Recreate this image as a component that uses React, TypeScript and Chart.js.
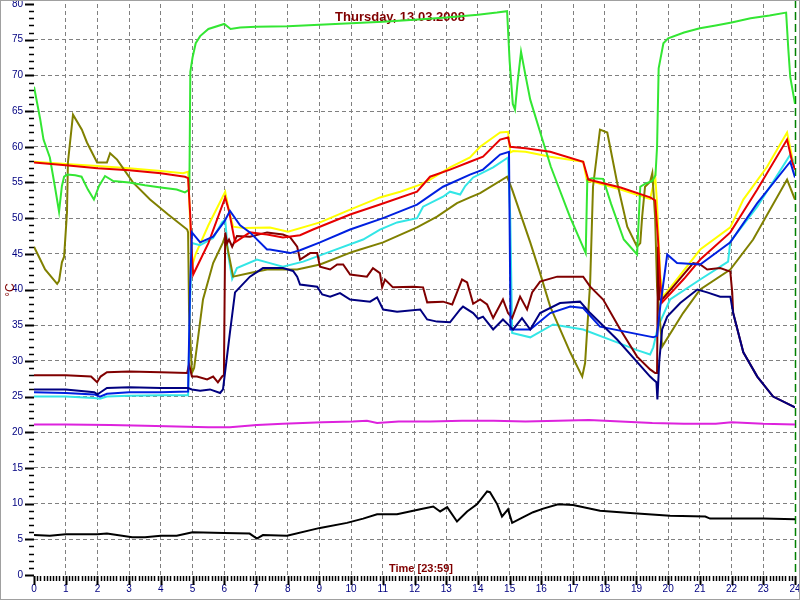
import React, { useEffect, useRef } from "react";
import { Chart, registerables } from "chart.js";

Chart.register(...registerables);

const titleText = "Thursday, 13.03.2008";
const xAxisText = "Time [23:59]";
const yAxisText = "°C";

const xTickLabels = Array.from({ length: 25 }, (_, i) => String(i));

const greenHours = [0, 0.19, 0.3, 0.5, 0.66, 0.79, 0.88, 0.95, 1.05, 1.3, 1.5, 1.7, 1.89, 2.05, 2.24, 2.5, 3.0, 3.5, 4.0, 4.5, 4.76, 4.9, 4.93, 5.0, 5.1, 5.24, 5.5, 6.0, 6.2, 6.5, 7, 8, 9, 10, 11, 12, 13, 14, 14.6, 14.92, 15.0, 15.1, 15.17, 15.25, 15.36, 15.5, 15.65, 16.0, 16.3, 16.9, 17.4, 17.45, 17.6, 17.95, 18.2, 18.6, 19.02, 19.12, 19.27, 19.5, 19.6, 19.65, 19.7, 19.85, 20.0, 20.5, 21.0, 21.5, 22.0, 22.6, 23.2, 23.72, 23.79, 23.85, 24];
const greenTemps = [68.4, 64, 61, 58.5, 54.4, 50.9, 54.5, 55.8, 56.1, 56, 55.8, 54, 52.6, 54.5, 55.9, 55.2, 55, 54.6, 54.3, 54, 53.6, 54, 70.5, 72.5, 74.5, 75.5, 76.5, 77.2, 76.5, 76.7, 76.8, 76.9, 77.1, 77.3, 77.5, 77.8, 78.1, 78.5, 78.8, 79, 72, 66, 65.2, 69, 73.3, 70, 66.6, 61.5, 57.2, 50.2, 45.1, 55.4, 55.6, 55.5, 52, 47, 44.9, 54.4, 54.8, 55.2, 56, 60, 71, 74.5, 75.2, 76, 76.6, 77, 77.4, 78, 78.4, 78.8, 73.6, 69.8, 66];

const yellowHours = [0, 1, 2, 3, 4, 4.7, 4.86, 4.92, 4.98, 5.1, 5.5, 6.03, 6.15, 6.28, 6.6, 7.44, 8.01, 9.02, 9.97, 10.91, 11.55, 12.18, 12.49, 13.12, 13.75, 14.07, 14.7, 14.95, 15.02, 15.11, 15.5, 16.28, 17.32, 17.44, 17.63, 18.5, 19.43, 19.55, 19.59, 19.65, 19.75, 19.84, 20.2, 21.01, 21.96, 22.37, 23.12, 23.75, 23.91, 24];
const yellowTemps = [57.9, 57.6, 57.3, 57, 56.6, 56.3, 56.5, 50, 43.2, 45, 49, 53.7, 51, 48.8, 48.6, 48.7, 48.1, 49.4, 51.2, 52.9, 53.7, 54.7, 55.4, 57.1, 58.5, 60, 62, 62.1, 59.2, 59.4, 59.3, 58.6, 57.9, 55.2, 55.1, 54, 52.7, 55, 56, 52, 42, 39, 41, 45.6, 48.7, 52.6, 57.2, 62, 58.5, 57];

const redHours = [0, 1, 2, 3, 4, 4.76, 4.86, 4.92, 4.98, 5.02, 5.5, 6.03, 6.15, 6.34, 6.81, 7.35, 7.85, 8.39, 8.8, 9.97, 10.91, 12.08, 12.49, 13.12, 13.75, 14.16, 14.7, 14.95, 15.02, 15.5, 16.28, 17.32, 17.48, 18.5, 19.43, 19.59, 19.68, 19.75, 19.81, 20.5, 21.01, 21.96, 22.81, 23.75, 23.91, 24];
const redTemps = [57.8, 57.4, 57, 56.7, 56.3, 55.8, 55.6, 51, 45, 42.1, 46.5, 52.9, 51, 46.6, 48, 47.7, 47.3, 47.6, 48.4, 50.5, 51.9, 53.7, 55.8, 56.8, 57.9, 58.6, 61, 61.3, 60, 59.8, 59.3, 57.9, 55.4, 54.3, 52.9, 52.5, 47, 41, 38.2, 41.5, 44.2, 48, 54, 61, 57.9, 56.8];

const blueHours = [0, 1, 1.9, 2.08, 2.3, 3, 4, 4.86, 4.92, 4.98, 5.24, 5.65, 6.0, 6.18, 6.5, 6.81, 7.35, 7.44, 8.08, 8.39, 9.02, 9.97, 11.01, 12.08, 12.9, 13.75, 14.16, 14.7, 14.98, 15.03, 15.65, 16.28, 16.91, 17.32, 17.85, 19.43, 19.53, 19.65, 19.75, 19.97, 20.28, 21.01, 21.96, 22.81, 23.85, 24];
const blueTemps = [25.6, 25.5, 25.3, 25.0, 25.4, 25.6, 25.6, 25.7, 40, 48, 46.6, 47.4, 49.5, 51, 49, 48, 45.6, 45.6, 45.1, 45.5, 46.6, 48.4, 50, 51.9, 54.4, 56.1, 56.8, 58.9, 59.3, 34.4, 34.4, 36.7, 37.6, 37.4, 34.8, 33.4, 33.3, 33.5, 37.6, 44.9, 43.7, 43.5, 46.6, 52.1, 57.9, 55.7];

const cyanHours = [0, 1, 1.9, 2.08, 2.3, 3, 4, 4.86, 4.92, 4.98, 5.24, 5.65, 5.93, 6.03, 6.12, 6.25, 6.4, 7.03, 7.44, 7.85, 8.49, 9.34, 10.38, 10.91, 11.45, 12.08, 12.27, 12.9, 13.12, 13.44, 13.6, 13.85, 14.48, 14.95, 15.02, 15.08, 15.65, 16.37, 17.32, 18.39, 19.02, 19.43, 19.53, 19.68, 20.06, 21.01, 21.89, 21.96, 22.81, 23.85, 24];
const cyanTemps = [25.0, 25.0, 24.8, 24.7, 25.0, 25.1, 25.2, 25.2, 38, 46.5, 46.2, 47.2, 49.4, 49.8, 45, 41.5, 43, 44.2, 43.7, 43.2, 43.9, 45.3, 47, 48.4, 49.4, 50, 51.6, 53, 53.7, 53.3, 54.5, 55.7, 57.1, 58.5, 50, 33.9, 33.3, 35.1, 34.4, 32.6, 31.5, 30.9, 31.9, 34.8, 38.6, 41.4, 43.9, 46.7, 51.6, 58.9, 57.2];

const oliveHours = [0, 0.35, 0.73, 0.79, 0.88, 0.95, 1.04, 1.07, 1.23, 1.51, 1.67, 1.99, 2.3, 2.4, 2.62, 3.12, 3.66, 4.23, 4.83, 4.86, 4.89, 4.98, 5.05, 5.33, 5.65, 5.96, 6.03, 6.28, 6.81, 7.35, 8.08, 8.3, 9.02, 10.06, 11.01, 12.08, 12.71, 13.34, 13.75, 14.07, 14.92, 15.08, 15.65, 15.96, 16.28, 16.91, 17.29, 17.38, 17.54, 17.63, 17.85, 18.08, 18.39, 18.71, 19.02, 19.12, 19.18, 19.27, 19.43, 19.5, 19.59, 19.65, 19.81, 20.47, 21.01, 21.96, 22.68, 23.75, 24];
const oliveTemps = [46, 42.8, 40.8, 41.2, 43.8, 44.6, 50.8, 57.8, 64.5, 62.4, 60.6, 57.8, 57.8, 59.1, 58.2, 55, 52.6, 50.5, 48.4, 48, 37, 28.3, 29, 38.6, 43.7, 46.6, 47.5, 41.8, 42.3, 42.8, 42.8, 42.8, 43.5, 45.3, 46.6, 48.7, 50.2, 52.1, 52.9, 53.5, 55.8, 54, 46.6, 42.3, 37.6, 31.2, 27.8, 29.7, 41, 54.4, 62.4, 62, 55, 48.8, 46, 46.5, 50.2, 54.4, 55.1, 56.3, 50, 40.4, 32, 36.7, 40, 42.8, 47, 55.4, 52.6];

const maroonHours = [0, 1, 1.8, 1.99, 2.1, 2.3, 3, 4, 4.83, 4.89, 4.98, 5.14, 5.46, 5.65, 5.8, 5.93, 5.99, 6.03, 6.09, 6.15, 6.25, 6.4, 6.81, 7.35, 7.85, 8.08, 8.3, 8.39, 8.71, 8.93, 9.02, 9.34, 9.56, 9.75, 9.97, 10.5, 10.69, 10.91, 10.98, 11.07, 11.32, 11.96, 12.27, 12.4, 12.9, 13.19, 13.34, 13.5, 13.66, 13.85, 14.07, 14.29, 14.48, 14.79, 14.95, 15.08, 15.33, 15.55, 15.71, 15.96, 16.5, 17.32, 17.54, 17.95, 18.49, 19.02, 19.43, 19.59, 19.65, 19.68, 19.72, 19.81, 20.16, 20.79, 21.01, 21.23, 21.64, 21.96, 22.02, 22.05, 22.37, 22.81, 23.31, 24];
const maroonTemps = [28.0, 28.0, 27.8, 27.0, 27.8, 28.4, 28.5, 28.4, 28.3, 29.5, 27.8, 27.8, 27.4, 27.8, 27.0, 27.8, 28, 48, 46.5, 47, 46, 47.5, 47.4, 48, 47.7, 47.3, 46, 44.2, 45.1, 45.1, 43.2, 42.8, 43.5, 43.5, 42.1, 41.8, 43, 42.3, 40.3, 41.4, 40.3, 40.4, 40.3, 38.2, 38.3, 37.9, 39.6, 41.4, 41, 38, 38.6, 37.9, 36, 38.6, 36.7, 36, 39, 37.2, 39.6, 41.1, 41.8, 41.8, 40.4, 38.6, 34.4, 30.6, 28.8, 28.3, 28.3, 46, 38.6, 38.6, 40.4, 43.7, 43.5, 42.8, 43, 42.5, 39.6, 36.7, 31.2, 27.8, 25, 23.5];

const navyHours = [0, 1, 1.9, 2.0, 2.1, 2.3, 3, 4, 4.86, 4.98, 5.24, 5.55, 5.87, 5.96, 6.18, 6.34, 6.81, 7.22, 7.85, 8.17, 8.3, 8.39, 8.93, 9.09, 9.34, 9.65, 9.97, 10.6, 10.82, 11.01, 11.45, 12.18, 12.4, 12.71, 13.12, 13.44, 13.53, 13.85, 14.01, 14.16, 14.48, 14.79, 15.02, 15.11, 15.39, 15.65, 15.96, 16.59, 17.22, 17.54, 18.39, 19.43, 19.53, 19.63, 19.66, 19.72, 19.81, 19.97, 20.38, 20.92, 21.23, 21.64, 21.96, 22.05, 22.37, 22.81, 23.31, 24];
const navyTemps = [26.0, 26.0, 25.6, 25.3, 25.6, 26.2, 26.3, 26.2, 26.2, 26, 25.8, 26, 25.5, 26, 34, 39.6, 41.8, 43, 43, 42.6, 41.8, 40.7, 40.4, 39.3, 39, 39.5, 38.6, 38.3, 38.9, 37.2, 36.9, 37.2, 35.8, 35.5, 35.4, 37.2, 37.6, 36.7, 35.9, 36.2, 34.4, 35.8, 34.8, 34.4, 36, 34.4, 36.7, 38.1, 38.3, 36.7, 33, 27.8, 27.4, 27, 24.6, 30, 34.4, 36.2, 38.1, 40, 39.6, 39, 39, 36.7, 31.2, 27.8, 25, 23.5];

const magentaHours = [0, 1, 2.4, 3.5, 4.5, 5.5, 6.18, 7.03, 7.85, 9.1, 10.06, 10.5, 10.82, 11.5, 12.5, 13.5, 14.5, 15.5, 16.53, 17.5, 18.5, 19.5, 20.5, 21.5, 22, 23, 24];
const magentaTemps = [21.1, 21.1, 21.0, 20.9, 20.8, 20.7, 20.7, 21, 21.2, 21.4, 21.5, 21.6, 21.3, 21.5, 21.5, 21.6, 21.6, 21.5, 21.6, 21.7, 21.5, 21.3, 21.2, 21.2, 21.4, 21.2, 21.1];

const blackHours = [0, 0.5, 1, 2, 2.3, 3.1, 3.5, 4, 4.5, 5.0, 6, 6.8, 7.03, 7.22, 7.98, 9.02, 9.87, 10.38, 10.82, 11.45, 12.18, 12.59, 12.81, 13.03, 13.34, 13.66, 13.97, 14.29, 14.38, 14.61, 14.76, 14.95, 15.08, 15.43, 15.74, 16.06, 16.53, 17, 17.85, 18.8, 20.06, 21.17, 21.32, 22, 23, 24];
const blackTemps = [5.6, 5.5, 5.7, 5.7, 5.8, 5.3, 5.3, 5.5, 5.5, 6.0, 5.9, 5.8, 5.1, 5.6, 5.5, 6.6, 7.3, 7.9, 8.5, 8.5, 9.2, 9.6, 8.9, 9.5, 7.5, 8.9, 9.9, 11.7, 11.6, 9.9, 8.2, 9.2, 7.3, 8.1, 8.8, 9.3, 9.9, 9.8, 9.0, 8.7, 8.3, 8.2, 7.9, 7.9, 7.9, 7.8];

function zip(hours: number[], temps: number[]) {
  const n = Math.min(hours.length, temps.length);
  const out: { x: number; y: number }[] = [];
  for (let i = 0; i < n; i++) out.push({ x: hours[i], y: temps[i] });
  return out;
}

const FONT = "'Liberation Sans', Arial, sans-serif";

const decorPlugin = {
  id: "decor",
  beforeDatasetsDraw(chart: any) {
    const { ctx, chartArea, scales } = chart;
    const xs = scales.x;
    ctx.save();
    ctx.fillStyle = "#800000";
    ctx.textAlign = "center";
    ctx.textBaseline = "middle";
    ctx.font = `bold 13px ${FONT}`;
    ctx.fillText(titleText, 400, 17);
    ctx.font = `bold 11px ${FONT}`;
    ctx.fillText(xAxisText, 421, 569);
    // now marker (dark green dashed) at 24h
    const px = Math.round(xs.getPixelForValue(24)) + 0.5;
    ctx.strokeStyle = "#008000";
    ctx.lineWidth = 1.5;
    ctx.setLineDash([8, 4]);
    ctx.beginPath();
    ctx.moveTo(px, 0);
    ctx.lineTo(px, chartArea.bottom);
    ctx.stroke();
    ctx.restore();
  },
  afterDraw(chart: any) {
    const { ctx, chartArea, scales } = chart;
    const xs = scales.x;
    const ys = scales.y;
    ctx.save();
    ctx.strokeStyle = "#000000";
    ctx.setLineDash([]);
    // y ticks
    for (let v = 0; v <= 80; v++) {
      const py = Math.round(ys.getPixelForValue(v)) + 0.5;
      const major = v % 5 === 0;
      ctx.lineWidth = major ? 2 : 1.5;
      ctx.beginPath();
      ctx.moveTo(chartArea.left - (major ? 9 : 5), py);
      ctx.lineTo(chartArea.left, py);
      ctx.stroke();
    }
    // x ticks
    for (let i = 0; i <= 240; i++) {
      const h = i / 10;
      const px = Math.round(xs.getPixelForValue(h)) + 0.5;
      const major = i % 10 === 0;
      ctx.lineWidth = major ? 2 : 1.5;
      ctx.beginPath();
      ctx.moveTo(px, chartArea.bottom + 1);
      ctx.lineTo(px, chartArea.bottom + (major ? 10 : 6));
      ctx.stroke();
    }
    // y axis title
    ctx.fillStyle = "#800000";
    ctx.font = `12px ${FONT}`;
    ctx.textAlign = "center";
    ctx.textBaseline = "middle";
    ctx.translate(11, 290);
    ctx.rotate(-Math.PI / 2);
    ctx.fillText(yAxisText, 0, 0);
    ctx.restore();
    // frame
    ctx.save();
    ctx.strokeStyle = "#a0a0a0";
    ctx.lineWidth = 1;
    ctx.strokeRect(0.5, 0.5, chart.width - 1, chart.height - 1);
    ctx.restore();
  },
};

export default function App() {
  const canvasRef = useRef<HTMLCanvasElement | null>(null);

  useEffect(() => {
    document.body.style.margin = "0";
    const canvas = canvasRef.current;
    if (!canvas) return;
    const line = (label: string, color: string, h: number[], v: number[]) => ({
      label,
      data: zip(h, v),
      borderColor: color,
      backgroundColor: color,
      borderWidth: 2,
      pointRadius: 0,
      fill: false,
      tension: 0,
    });
    const gridColor = (max: number) => (c: any) =>
      c.tick && (c.tick.value === 0 || c.tick.value === max) ? "rgba(0,0,0,0)" : "#808080";

    const chart = new Chart(canvas, {
      type: "line",
      data: {
        datasets: [
          line("Black", "#000000", blackHours, blackTemps),
          line("Magenta", "#dd22dd", magentaHours, magentaTemps),
          line("Navy", "#000080", navyHours, navyTemps),
          line("Blue", "#0020e0", blueHours, blueTemps),
          line("Red", "#e60000", redHours, redTemps),
          line("Green", "#33e633", greenHours, greenTemps),
          line("Maroon", "#800000", maroonHours, maroonTemps),
          line("Olive", "#808000", oliveHours, oliveTemps),
          line("Cyan", "#33e6e6", cyanHours, cyanTemps),
          line("Yellow", "#ffff00", yellowHours, yellowTemps),
        ],
      },
      options: {
        responsive: false,
        maintainAspectRatio: false,
        devicePixelRatio: 1,
        animation: false,
        events: [],
        layout: { padding: { top: 4, right: 5, left: 0, bottom: 0 } },
        plugins: {
          legend: { display: false },
          tooltip: { enabled: false },
          title: { display: false },
        },
        scales: {
          x: {
            type: "linear",
            position: "bottom",
            min: 0,
            max: 24,
            afterFit: (s: any) => {
              s.height = 25;
              s.paddingLeft = 0;
              s.paddingRight = 0;
            },
            ticks: {
              stepSize: 1,
              autoSkip: false,
              maxRotation: 0,
              padding: 8,
              color: "#000080",
              font: { size: 10, family: FONT },
              callback: (val: any) => xTickLabels[Number(val)] ?? "",
            },
            grid: { color: gridColor(24), drawTicks: false, lineWidth: 1 },
            border: { display: false, dash: [4, 3] },
          },
          y: {
            type: "linear",
            min: 0,
            max: 80,
            afterFit: (s: any) => {
              s.width = 34;
              s.paddingTop = 0;
              s.paddingBottom = 0;
            },
            ticks: {
              stepSize: 5,
              autoSkip: false,
              padding: 11,
              color: "#000080",
              font: { size: 10, family: FONT },
            },
            grid: { color: gridColor(80), drawTicks: false, lineWidth: 1 },
            border: { display: false, dash: [4, 3] },
          },
        },
      },
      plugins: [decorPlugin],
    } as any);
    return () => chart.destroy();
  }, []);

  return (
    <div style={{ width: 800, height: 600, background: "#ffffff" }}>
      <canvas ref={canvasRef} width={800} height={600} style={{ display: "block" }} />
    </div>
  );
}
